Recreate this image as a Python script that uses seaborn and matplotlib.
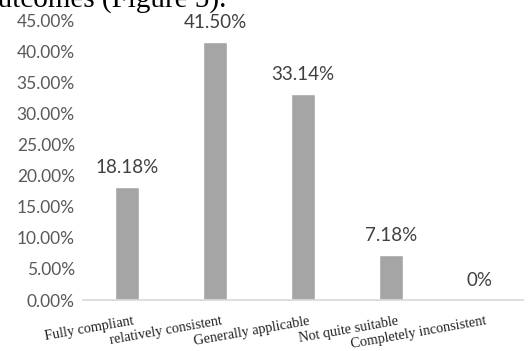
import matplotlib
matplotlib.use("Agg")
import matplotlib.pyplot as plt
import seaborn as sns
import pandas as pd

categories = ["Fully compliant", "relatively consistent", "Generally applicable",
              "Not quite suitable", "Completely inconsistent"]
values = [18.18, 41.50, 33.14, 7.18, 0.0]
value_labels = ["18.18%", "41.50%", "33.14%", "7.18%", "0%"]
yticks = [0, 5, 10, 15, 20, 25, 30, 35, 40, 45]

sns.set_theme(style="white")
plt.rcParams["font.family"] = ["Lato", "DejaVu Sans"]

df = pd.DataFrame({"cat": categories, "val": values})

fig = plt.figure(figsize=(5.30, 3.51), dpi=100)
ax = fig.add_axes([0.157, 0.145, 0.83, 0.798])
sns.barplot(data=df, x="cat", y="val", color="#a5a5a5", saturation=1,
            width=0.27, ax=ax)
ax.set_xlim(-0.5, 4.5)
ax.set_ylim(0, 45)
ax.set_yticks(yticks)
ax.set_yticklabels([f"{t:.2f}%" for t in yticks], color="#595959", fontsize=12.5)
ax.set_xlabel("")
ax.set_ylabel("")
for s in ["top", "right", "left"]:
    ax.spines[s].set_visible(False)
ax.spines["bottom"].set_color("#d9d9d9")
ax.tick_params(axis="both", length=0)
ax.tick_params(axis="y", pad=6)
ax.set_xticks(range(len(categories)))
ax.set_xticklabels([])
for i, c in enumerate(categories):
    ax.annotate(c, xy=(i, 0), xycoords="data", xytext=(4, -10.5),
                textcoords="offset points", rotation=10, ha="right", va="top",
                rotation_mode="anchor", family="Liberation Serif",
                fontsize=10.3, color="#222222")
for i, (v, lab) in enumerate(zip(values, value_labels)):
    ax.annotate(lab, xy=(i, v), xytext=(0, 8), textcoords="offset points",
                ha="center", va="bottom", fontsize=13.5, color="#404040")

fig.text(-0.032, 0.980, "outcomes (Figure 5).", family="Liberation Serif",
         fontsize=21, color="black", va="baseline", ha="left")

fig.savefig("out.png", dpi=100)
